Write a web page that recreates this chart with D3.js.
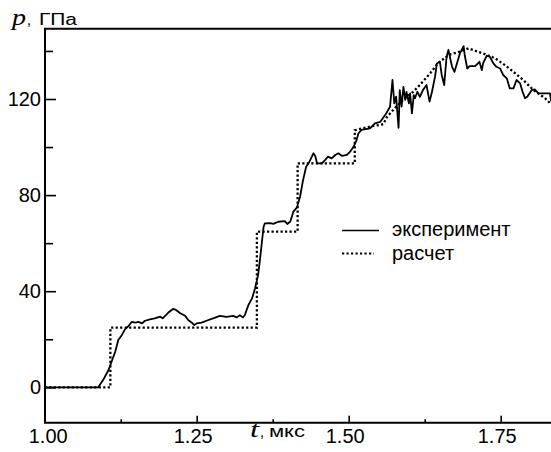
<!DOCTYPE html>
<html>
<head>
<meta charset="utf-8">
<script src="https://cdn.jsdelivr.net/npm/d3@7"></script>
<style>
  html, body { margin: 0; padding: 0; background: #fff; }
  svg { display: block; }
  text { font-family: "Liberation Sans", Arial, sans-serif; fill: #000; }
  text.sym { font-family: "Liberation Serif", "Times New Roman", serif; font-style: italic; }
</style>
</head>
<body>
<svg id="chart" width="551" height="452"></svg>
<script>
// Measured pressure profile: time (µs) and pressure (GPa)
const tExp = [1.000, 1.088, 1.096, 1.105, 1.110, 1.116, 1.121, 1.127, 1.132, 1.138, 1.143, 1.149, 1.154, 1.160, 1.165,
  1.173, 1.181, 1.190, 1.194, 1.203, 1.211, 1.216, 1.223, 1.231, 1.236, 1.242, 1.246, 1.250, 1.258, 1.266,
  1.277, 1.288, 1.299, 1.310, 1.316, 1.321, 1.326, 1.329, 1.335, 1.341, 1.346, 1.351, 1.354, 1.357, 1.360,
  1.362, 1.371, 1.376, 1.384, 1.395, 1.399, 1.404, 1.409, 1.415, 1.420, 1.425, 1.430, 1.434, 1.438, 1.442,
  1.445, 1.448, 1.456, 1.461, 1.466, 1.472, 1.478, 1.483, 1.489, 1.497, 1.502, 1.508, 1.513, 1.516, 1.521,
  1.535, 1.543, 1.552, 1.560, 1.568, 1.572, 1.575, 1.578, 1.582, 1.584, 1.587, 1.590, 1.593, 1.595, 1.599,
  1.601, 1.604, 1.607, 1.609, 1.613, 1.617, 1.622, 1.628, 1.633, 1.637, 1.642, 1.645, 1.650, 1.653, 1.657,
  1.661, 1.664, 1.670, 1.674, 1.678, 1.683, 1.689, 1.691, 1.695, 1.699, 1.708, 1.715, 1.719, 1.721, 1.727,
  1.732, 1.738, 1.743, 1.749, 1.754, 1.760, 1.765, 1.771, 1.776, 1.782, 1.786, 1.790, 1.794, 1.801, 1.806,
  1.812, 1.817, 1.831, 1.833];
const pExp = [0, 0, 3.0, 7.2, 10.7, 14.8, 19.7, 21.8, 24.1, 25.5, 27.2, 26.9, 27.2, 26.6, 27.7,
  28.3, 28.7, 29.4, 28.7, 31.0, 32.6, 32.2, 30.8, 29.8, 28.0, 26.9, 25.9, 26.6, 26.9, 27.7,
  28.7, 29.7, 29.3, 29.7, 29.1, 30.0, 29.1, 30.0, 34.2, 37.0, 41.2, 46.7, 53.0, 59.9, 66.8,
  68.2, 68.3, 68.0, 68.9, 69.2, 68.0, 69.0, 73.1, 74.9, 79.3, 86.3, 91.8, 93.2, 95.3, 97.4,
  96.3, 93.2, 93.2, 94.6, 96.0, 95.3, 96.7, 97.4, 96.3, 96.7, 98.0, 100.1, 102.9, 105.7, 107.1,
  107.8, 109.9, 110.5, 113.3, 116.8, 127.9, 118.2, 121.0, 108.0, 123.7, 116.8, 125.0, 119.6, 123.0, 118.2,
  122.3, 114.0, 121.6, 120.3, 123.0, 120.9, 123.7, 125.8, 118.9, 123.0, 129.3, 134.8, 135.5, 130.0, 125.8,
  137.6, 140.4, 133.4, 131.3, 134.8, 139.0, 142.0, 138.0, 132.7, 133.7, 133.7, 135.5, 132.0, 134.8, 138.0,
  137.6, 134.8, 133.4, 132.7, 130.0, 128.6, 124.4, 124.4, 127.9, 126.5, 123.0, 120.3, 121.0, 123.7, 124.0,
  122.3, 122.3, 122.3, 119.0];

// Computed pressure profile
const tCalc = [1.000, 1.108, 1.108, 1.349, 1.349, 1.416, 1.416, 1.510, 1.510, 1.535, 1.557, 1.563, 1.575, 1.591,
  1.606, 1.617, 1.636, 1.647, 1.666, 1.683, 1.697, 1.708, 1.724, 1.741, 1.757, 1.771, 1.787, 1.804, 1.823, 1.833];
const pCalc = [0, 0, 24.8, 24.8, 64.8, 64.8, 93.2, 93.2, 107.0, 108.5, 109.5, 112.5, 116.0, 120.0,
  123.0, 125.8, 131.3, 135.0, 138.5, 139.7, 141.1, 140.1, 138.7, 136.9, 134.1, 131.3, 127.9, 123.7, 120.3, 117.8];

const xMajorTicks = [1.00, 1.25, 1.50, 1.75];
const xMinorTicks = [1.125, 1.375, 1.625];
const yMajorTicks = [0, 40, 80, 120];
const yMinorTicks = [20, 60, 100, 140];
const seriesNames = ["эксперимент", "расчет"];

(function draw() {
  const svg = d3.select("#chart");
  const W = 551;
  const plotL = 45, plotT = 28.7, plotB = 422.7, plotR = W;

  const x = d3.scaleLinear().domain([1.0, 1.75]).range([44.7, 500.7]);
  const y = d3.scaleLinear().domain([0, 120]).range([387.3, 99]);

  svg.append("defs").append("clipPath").attr("id", "plot")
    .append("rect").attr("x", plotL).attr("y", plotT)
    .attr("width", plotR - plotL).attr("height", plotB - plotT);

  // axes: ticks point inward
  const gx = svg.append("g").attr("transform", `translate(0,${plotB})`);
  gx.call(d3.axisBottom(x).tickValues(xMajorTicks).tickSize(-7).tickPadding(6)
    .tickFormat(d3.format(".2f")));
  gx.call(g => g.select(".domain").remove());
  gx.selectAll(".tick line").attr("stroke", "#000").attr("stroke-width", 1.6);
  gx.selectAll(".tick text").style("font-size", "20px")
    .attr("dx", (d, i) => i === 0 ? 3 : -4);
  const gxm = svg.append("g").attr("transform", `translate(0,${plotB})`);
  gxm.call(d3.axisBottom(x).tickValues(xMinorTicks).tickSize(-3.5).tickFormat(""));
  gxm.call(g => g.select(".domain").remove());
  gxm.selectAll(".tick line").attr("stroke", "#000").attr("stroke-width", 1.6);

  const gy = svg.append("g").attr("transform", `translate(${plotL},0)`);
  gy.call(d3.axisLeft(y).tickValues(yMajorTicks).tickSize(-11).tickPadding(4).tickFormat(d3.format("d")));
  gy.call(g => g.select(".domain").remove());
  gy.selectAll(".tick line").attr("stroke", "#000").attr("stroke-width", 1.6);
  gy.selectAll(".tick text").style("font-size", "20px");
  const gym = svg.append("g").attr("transform", `translate(${plotL},0)`);
  gym.call(d3.axisLeft(y).tickValues(yMinorTicks).tickSize(-8).tickFormat(""));
  gym.call(g => g.select(".domain").remove());
  gym.selectAll(".tick line").attr("stroke", "#000").attr("stroke-width", 1.6);

  // frame: left, bottom and top edges
  svg.append("path")
    .attr("d", `M${plotR},${plotT}H${plotL}V${plotB}H${plotR}`)
    .attr("fill", "none").attr("stroke", "#000").attr("stroke-width", 2);

  // curves
  const plot = svg.append("g").attr("clip-path", "url(#plot)");
  const line = d3.line().x(d => x(d[0])).y(d => y(d[1]));
  const expData = tExp.map((t, i) => [t, pExp[i]]);
  const calcData = tCalc.map((t, i) => [t, pCalc[i]]);

  plot.append("path").datum(calcData).attr("d", line)
    .attr("fill", "none").attr("stroke", "#000").attr("stroke-width", 2.3)
    .attr("stroke-dasharray", "2.2,2.3");
  plot.append("path").datum(expData).attr("d", line)
    .attr("fill", "none").attr("stroke", "#000").attr("stroke-width", 1.8)
    .attr("stroke-linejoin", "round");

  // axis titles: italic symbol plus a wide unit label
  function label(xp, yp, txt, size, len, italic) {
    const t = svg.append("text").attr("x", xp).attr("y", yp).style("font-size", size + "px")
      .attr("textLength", len).attr("lengthAdjust", "spacingAndGlyphs").text(txt);
    if (italic) t.attr("class", "sym");
    return t;
  }
  label(12, 25, "p", 23, 14, true);
  label(27, 25, ",", 16, 4, false);
  label(39, 25, "ГПа", 16, 38, false);

  label(250, 437, "t", 23, 9, true);
  label(260, 437, ",", 16, 4, false);
  label(269, 437, "мкс", 16, 36, false);

  // legend
  const legend = svg.append("g");
  legend.append("line").attr("x1", 342).attr("x2", 379).attr("y1", 230.5).attr("y2", 230.5)
    .attr("stroke", "#000").attr("stroke-width", 1.4);
  legend.append("line").attr("x1", 342).attr("x2", 374).attr("y1", 253.5).attr("y2", 253.5)
    .attr("stroke", "#000").attr("stroke-width", 2.2).attr("stroke-dasharray", "2.2,2.3");
  legend.selectAll("text.leg").data(seriesNames).join("text").attr("class", "leg")
    .attr("x", 392).attr("y", (d, i) => 236 + i * 23.5)
    .style("font-size", "20px").text(d => d);
})();
</script>
</body>
</html>
